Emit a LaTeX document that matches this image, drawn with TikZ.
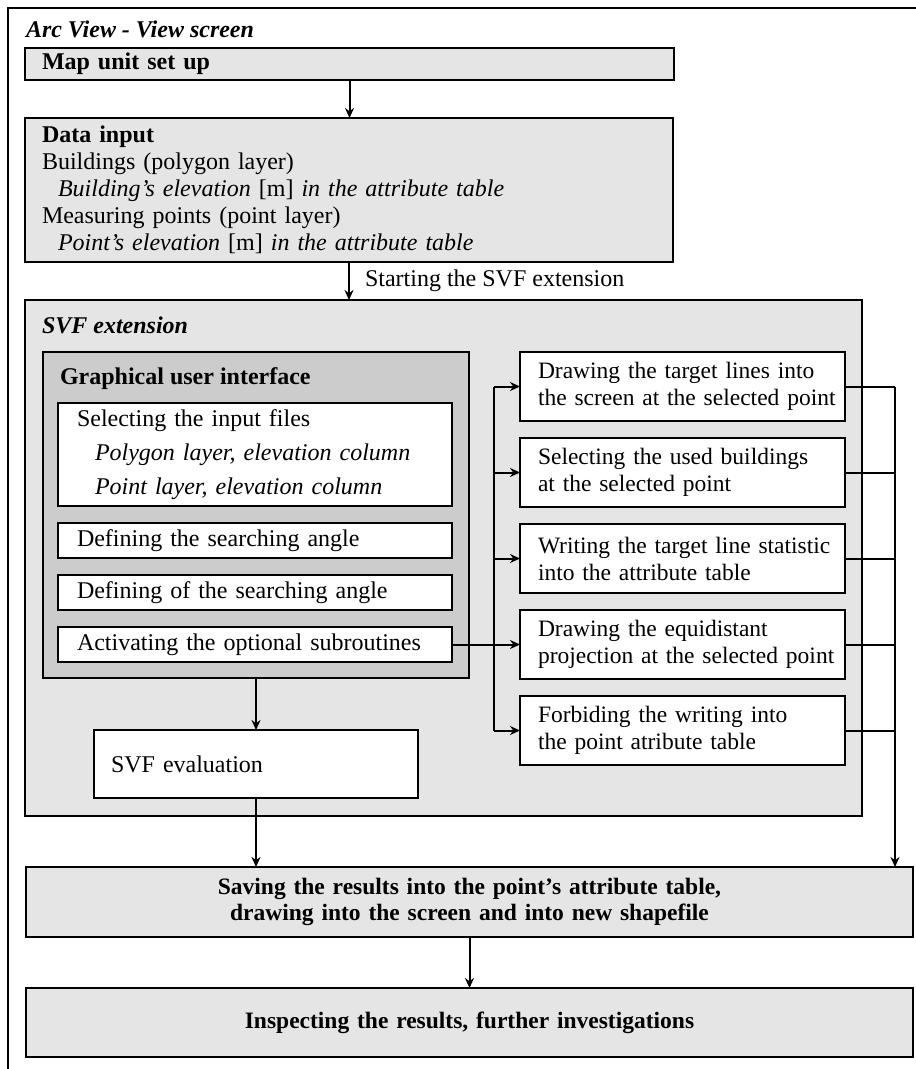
\documentclass[tikz,border=0pt]{standalone}
\usepackage{fontspec}
\setmainfont{Liberation Serif}
\usetikzlibrary{positioning}
\usetikzlibrary{arrows.meta}
\definecolor{lightgray}{gray}{0.90}
\definecolor{guigray}{gray}{0.80}

\begin{document}
\begin{tikzpicture}[
    x=1pt,
    y=-1pt,
    outer sep=0pt,
    box/.style={
        draw,
        line width=2.2pt,
        anchor=north west,
        inner ysep=0pt,
        align=left,
        font=\fontsize{24}{27}\selectfont
    },
    stepbox/.style={
        box,
        fill=white,
        minimum width=325pt,
        minimum height=69pt,
        inner xsep=2pt,
        text width=321pt,
        font=\fontsize{23.5}{27}\selectfont,
        execute at begin node={\leftskip=16pt}
    },
    guibox/.style={
        box,
        fill=white,
        minimum width=394pt,
        minimum height=35pt,
        inner xsep=19pt,
        text width=356pt
    },
    resultbox/.style={
        box,
        fill=lightgray,
        minimum width=887pt,
        inner xsep=10pt,
        text width=867pt,
        align=center,
        font=\fontsize{23.5}{26}\selectfont\bfseries
    },
    title/.style={
        anchor=base west,
        inner sep=0pt,
        font=\fontsize{24}{27}\selectfont
    },
    arrow/.style={
        -{Stealth[length=10pt,width=9pt]},
        line width=2pt
    },
    wire/.style={
        line width=2pt
    }
]

    \useasboundingbox (0,0) rectangle (916,1069);
    \clip (0,0) rectangle (916,1069);

    % frame of the view screen
    \draw[line width=2.4pt] (8,1100) -- (8,8) -- (940,8);

    \node[title] (screen) at (26,37)
    {
        \textbf{\textit{Arc View - View screen}}
    };

    \node[box,fill=lightgray,minimum width=649pt,minimum height=32pt,inner xsep=17pt,text width=615pt] (map)
    at (25,48)
    {
        \textbf{Map unit set up}
    };

    \node[box,fill=lightgray,minimum width=648pt,minimum height=144pt,inner xsep=17pt,text width=614pt] (data)
    at (25,118)
    {
        \textbf{Data input}\\
        Buildings (polygon layer)\\
        \hspace*{16pt}\textit{Building’s elevation} [m] \textit{in the attribute table}\\
        Measuring points (point layer)\\
        \hspace*{16pt}\textit{Point’s elevation} [m] \textit{in the attribute table}
    };

    % SVF extension
    \node[box,fill=lightgray,minimum width=837pt,minimum height=516pt] (svf)
    at (25,300)
    {};

    \node[title] (svftitle) at (42,333)
    {
        \textbf{\textit{SVF extension}}
    };

    \node[box,fill=guigray,minimum width=426pt,minimum height=326pt] (gui)
    at (43,352)
    {};

    \node[title] (guititle) at (60,384)
    {
        \textbf{Graphical user interface}
    };

    \node[guibox,minimum height=103pt,font=\fontsize{24}{34}\selectfont] (sel)
    at (58,403)
    {
        Selecting the input files\\
        \hspace*{18pt}\textit{Polygon layer, elevation column}\\
        \hspace*{18pt}\textit{Point layer, elevation column}
    };

    \node[guibox] (angle) [below=17pt of sel]
    {
        Defining the searching angle
    };

    \node[guibox] (angleof) [below=17pt of angle]
    {
        Defining of the searching angle
    };

    \node[guibox] (act) [below=17pt of angleof]
    {
        Activating the optional subroutines
    };

    \node[box,fill=white,minimum width=324pt,minimum height=68pt,inner xsep=17pt,text width=290pt] (eval)
    at (94,730)
    {
        SVF evaluation
    };

    % optional subroutines
    \node[stepbox] (r1) at (520,352)
    {
        Drawing the target lines into\\
        the screen at the selected point
    };

    \node[stepbox] (r2) [below=17pt of r1]
    {
        Selecting the used buildings\\
        at the selected point
    };

    \node[stepbox] (r3) [below=17pt of r2]
    {
        Writing the target line statistic\\
        into the attribute table
    };

    \node[stepbox] (r4) [below=17pt of r3]
    {
        Drawing the equidistant\\
        projection at the selected point
    };

    \node[stepbox] (r5) [below=17pt of r4]
    {
        Forbiding the writing into\\
        the point atribute table
    };

    % results
    \node[resultbox,minimum height=70pt] (save)
    at (26,867)
    {
        Saving the results into the point’s attribute table,\\
        drawing into the screen and into new shapefile
    };

    \node[resultbox,minimum height=69pt] (inspect)
    at (26,988)
    {
        Inspecting the results, further investigations
    };

    \coordinate (busl) at (494,0);
    \coordinate (busr) at (895,0);

    \draw[arrow]
    (map.south) -- (map.south |- data.north);

    \draw[arrow]
    (data.south)
        -- node[right=16pt,inner sep=0pt,font=\fontsize{24}{27}\selectfont]
        {Starting the SVF extension}
    (data.south |- svf.north);

    \draw[arrow]
    (gui) -- (eval);

    \draw[arrow]
    (eval.south) -- (eval.south |- save.north);

    \draw[arrow]
    (save) -- (inspect);

    % left bus
    \draw[wire]
    (r1.west -| busl) -- (r5.west -| busl);

    \foreach \r in {r1,r2,r3,r5}
    {
        \draw[arrow] (\r.west -| busl) -- (\r.west);
    }

    \draw[arrow]
    (act.east) -- (act.east -| r4.west);

    % right bus
    \foreach \r in {r1,r2,r3,r4,r5}
    {
        \draw[wire] (\r.east) -- (\r.east -| busr);
    }

    \draw[arrow]
    (r1.east -| busr) -- (busr |- save.north);

\end{tikzpicture}
\end{document}
